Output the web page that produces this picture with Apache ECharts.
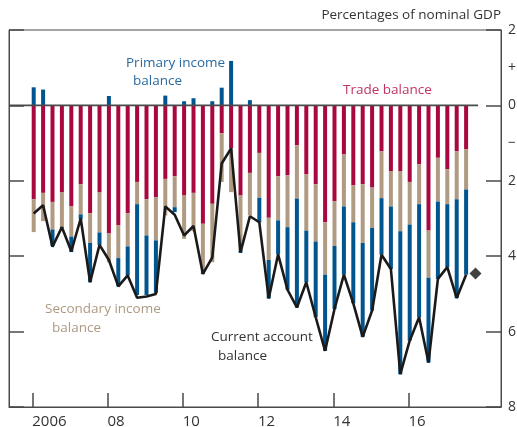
<!DOCTYPE html>
<html>
<head>
<meta charset="utf-8">
<script src="https://cdn.jsdelivr.net/npm/echarts@6/dist/echarts.min.js"></script>
<style>
  html, body { margin: 0; padding: 0; background: #fff; }
  #chart { width: 517px; height: 427px; }
</style>
</head>
<body>
<div id="chart"></div>
<script type="text/javascript">
// quarterly data, 2006 Q1 - 2017 Q3, % of nominal GDP
var startYear = 2006;
var tradeBalance = [-2.49, -2.32, -2.56, -2.31, -2.68, -2.09, -2.86, -2.31, -3.40, -3.18, -2.86, -2.03,
  -2.49, -2.44, -1.95, -1.88, -2.39, -2.32, -3.14, -2.61, -0.74, -1.14, -2.39, -1.79,
  -1.26, -2.98, -1.88, -1.85, -1.06, -1.83, -2.09, -3.10, -2.54, -1.30, -2.12, -2.09,
  -2.18, -1.22, -1.74, -1.74, -2.03, -1.56, -3.32, -1.39, -1.69, -1.22, -1.16];
var secondaryIncome = [-0.87, -0.75, -0.73, -0.92, -0.80, -0.80, -0.79, -1.06, -0.76, -0.87, -0.88, -0.59,
  -0.96, -1.14, -0.97, -0.82, -1.15, -1.02, -1.28, -1.55, -1.29, -1.16, -1.47, -1.13,
  -1.19, -1.12, -1.17, -1.38, -1.41, -1.49, -1.52, -1.39, -1.19, -1.38, -0.98, -1.56,
  -1.07, -1.24, -0.94, -1.60, -1.13, -1.06, -1.25, -1.16, -0.93, -1.27, -1.07];
var primaryIncome = [0.48, 0.42, -0.44, -0.02, -0.41, -0.13, -1.04, -0.33, 0.25, -0.75, -0.77, -2.41,
  -1.58, -1.39, 0.26, -0.13, 0.11, 0.19, -0.05, 0.11, 0.47, 1.18, -0.05, 0.14,
  -0.65, -1.02, -0.90, -1.66, -2.89, -1.37, -2.01, -2.02, -1.67, -1.81, -2.15, -2.49,
  -2.19, -1.50, -1.66, -3.79, -3.08, -3.00, -2.25, -2.05, -1.67, -2.62, -2.26];
var currentAccount = [-2.87, -2.65, -3.75, -3.23, -3.87, -3.00, -4.69, -3.70, -4.10, -4.80, -4.51, -5.10,
  -5.07, -5.00, -2.68, -2.90, -3.45, -3.20, -4.47, -4.03, -1.54, -1.14, -3.90, -2.94,
  -3.10, -5.12, -3.95, -4.89, -5.36, -4.69, -5.62, -6.51, -5.40, -4.49, -5.25, -6.14,
  -5.44, -3.96, -4.34, -7.13, -6.24, -5.62, -6.82, -4.60, -4.29, -5.11, -4.49];
var projectionQuarter = '2017 Q4';
var projectionValue = -4.46;
var yearTicks = [2006, 2008, 2010, 2012, 2014, 2016];
var yLabels = { '2': '2', '1': '+', '0': '0', '-1': '\u2212', '-2': '2', '-4': '4', '-6': '6', '-8': '8' };

// quarter names for the bar axis (2006 Q1 .. 2017 Q4)
var quarters = [];
for (var i = 0; i < 48; i++) {
  quarters.push((startYear + Math.floor(i / 4)) + ' Q' + (i % 4 + 1));
}

var chart = echarts.init(document.getElementById('chart'));
var FONT = 'Open Sans';
var ink = '#4a4a4a';
var noteFont = '13.5px "Open Sans"';

chart.setOption({
  animation: false,
  textStyle: { fontFamily: FONT },
  grid: [
    // frame, year ticks, right labels
    { left: 9, right: 16, top: 30, bottom: 20, outerBoundsMode: 'none', containLabel: false,
      show: true, backgroundColor: 'rgba(0,0,0,0)', borderColor: ink, borderWidth: 1 },
    // bars
    { left: 29, right: 36.8, top: 30, bottom: 20, outerBoundsMode: 'none', containLabel: false }
  ],
  xAxis: [{
    type: 'value', gridIndex: 0, min: 2005.381, max: 2018.459, z: 4,
    axisLine: { show: true, onZero: false, lineStyle: { color: ink, width: 1 } },
    splitLine: { show: false },
    axisTick: { show: true, inside: true, length: 14, customValues: yearTicks, lineStyle: { color: ink, width: 1.5 } },
    axisLabel: {
      customValues: yearTicks, align: 'left', margin: 7, fontSize: 15, color: '#333',
      formatter: function (v) { return v === 2006 ? '2006' : String(v).slice(2); }
    }
  }, {
    type: 'category', gridIndex: 1, data: quarters, boundaryGap: true,
    axisLine: { show: false, onZero: false }, axisTick: { show: false }, axisLabel: { show: false }
  }],
  yAxis: [{
    // labels
    type: 'value', gridIndex: 0, position: 'right', min: -8, max: 2, interval: 1, z: 4,
    axisLine: { show: false }, splitLine: { show: false }, axisTick: { show: false },
    axisLabel: {
      margin: 7, fontSize: 14, color: '#333', align: 'left',
      formatter: function (v) { return yLabels[String(v)] || ''; }
    }
  }, {
    // right ticks
    type: 'value', gridIndex: 0, position: 'right', min: -8, max: 2, interval: 2, z: 4,
    axisLine: { show: true, onZero: false, lineStyle: { color: ink, width: 1 } }, splitLine: { show: false }, axisLabel: { show: false },
    axisTick: { show: true, inside: true, length: 15, lineStyle: { color: ink, width: 1.5 } }
  }, {
    // left ticks
    type: 'value', gridIndex: 0, position: 'left', min: -8, max: 2, interval: 2, z: 4,
    axisLine: { show: true, onZero: false, lineStyle: { color: ink, width: 1 } }, splitLine: { show: false }, axisLabel: { show: false },
    axisTick: { show: true, inside: true, length: 15, lineStyle: { color: ink, width: 1.5 } }
  }, {
    type: 'value', gridIndex: 1, min: -8, max: 2, show: false
  }],
  series: [{
    // zero line
    type: 'line', xAxisIndex: 0, yAxisIndex: 0, symbol: 'none', silent: true,
    lineStyle: { color: ink, width: 1.6 },
    data: [[2005.381, 0], [2017.85, 0]]
  }, {
    name: 'Trade balance', type: 'bar', xAxisIndex: 1, yAxisIndex: 3, stack: 'ca', barWidth: 4,
    itemStyle: { color: '#a8083f' },
    data: tradeBalance
  }, {
    name: 'Secondary income balance', type: 'bar', xAxisIndex: 1, yAxisIndex: 3, stack: 'ca', barWidth: 4,
    itemStyle: { color: '#b09b82' },
    data: secondaryIncome
  }, {
    name: 'Primary income balance', type: 'bar', xAxisIndex: 1, yAxisIndex: 3, stack: 'ca', barWidth: 4,
    itemStyle: { color: '#00558e' },
    data: primaryIncome
  }, {
    name: 'Current account balance', type: 'line', xAxisIndex: 1, yAxisIndex: 3, z: 5,
    symbol: 'none',
    lineStyle: { color: '#1a1a1a', width: 2.6 },
    data: currentAccount
  }, {
    name: 'Projection', type: 'scatter', xAxisIndex: 1, yAxisIndex: 3, z: 6,
    symbol: 'diamond', symbolSize: 12,
    itemStyle: { color: '#111' },
    data: [[projectionQuarter, projectionValue]]
  }],
  graphic: [
    { type: 'text', right: 16, top: 8, style: { text: 'Percentages of nominal GDP', fill: '#333', font: noteFont } },
    { type: 'text', left: 126, top: 56, style: { text: 'Primary income', fill: '#2a6a9f', font: noteFont } },
    { type: 'text', left: 133, top: 74, style: { text: 'balance', fill: '#2a6a9f', font: noteFont } },
    { type: 'text', left: 343, top: 83, style: { text: 'Trade balance', fill: '#c03560', font: noteFont } },
    { type: 'text', left: 45, top: 302, style: { text: 'Secondary income', fill: '#ad9a82', font: noteFont } },
    { type: 'text', left: 52, top: 321, style: { text: 'balance', fill: '#ad9a82', font: noteFont } },
    { type: 'text', left: 211, top: 330, style: { text: 'Current account', fill: '#333', font: noteFont } },
    { type: 'text', left: 218, top: 349, style: { text: 'balance', fill: '#333', font: noteFont } }
  ]
});
</script>
</body>
</html>
